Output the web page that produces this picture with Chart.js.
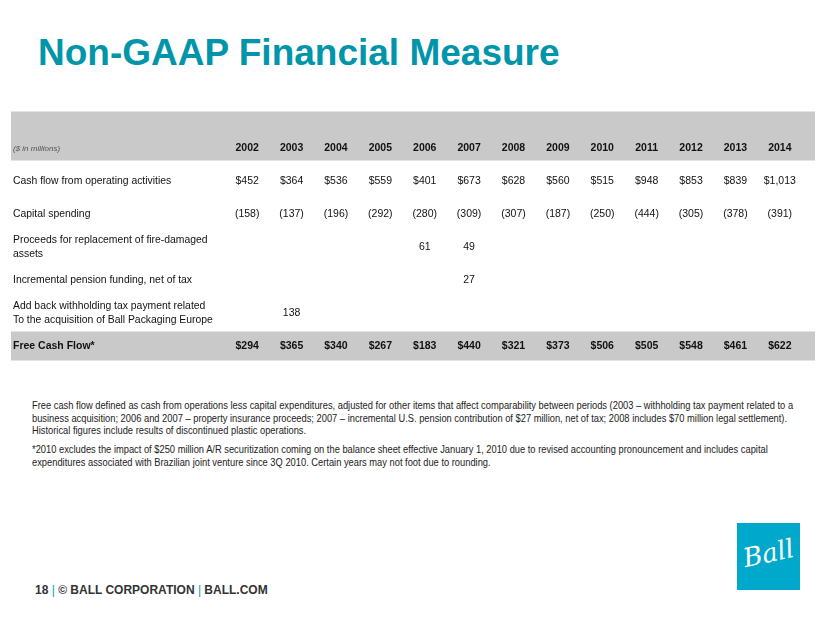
<!DOCTYPE html>
<html>
<head>
<meta charset="utf-8">
<script src="https://cdn.jsdelivr.net/npm/chart.js@4/dist/chart.umd.min.js"></script>
<style>
  body { margin: 0; background: #fff; font-family: "Liberation Sans", Arial, sans-serif; }
  #page { position: relative; width: 830px; height: 623px; overflow: hidden; }
  h1 { position: absolute; left: 38px; top: 32px; margin: 0; font-size: 37px; font-weight: bold; color: #0095a9; }
  #wrap { position: absolute; left: 0; top: 100px; width: 830px; height: 280px; }
  .notes { position: absolute; left: 32px; top: 399px; width: 900px; font-size: 10.6px; line-height: 12.7px; color: #222; transform: scaleX(0.88); transform-origin: left top; }
  .notes p { margin: 0 0 6px 0; }
  #footer { position: absolute; left: 35px; top: 583px; font-size: 12px; font-weight: bold; color: #333; }
  #footer span { color: #00a0c6; font-weight: normal; }
  #logo { position: absolute; left: 737px; top: 523px; width: 63px; height: 67px; background: #00a8cb; overflow: hidden; }
  #logo div { color: #fff; font-family: "DejaVu Serif", serif; font-style: italic; font-size: 26px; line-height: 60px; text-align: center; transform: rotate(-12deg); }
</style>
</head>
<body>
<div id="page">
  <h1>Non-GAAP Financial Measure</h1>
  <div id="wrap"><canvas id="table"></canvas></div>
  <div class="notes">
    <p>Free cash flow defined as cash from operations less capital expenditures, adjusted for other items that affect comparability between periods (2003 – withholding tax payment related to a<br>business acquisition; 2006 and 2007 – property insurance proceeds; 2007 – incremental U.S. pension contribution of $27 million, net of tax; 2008 includes $70 million legal settlement).<br>Historical figures include results of discontinued plastic operations.</p>
    <p>*2010 excludes the impact of $250 million A/R securitization coming on the balance sheet effective January 1, 2010 due to revised accounting pronouncement and includes capital<br>expenditures associated with Brazilian joint venture since 3Q 2010. Certain years may not foot due to rounding.</p>
  </div>
  <div id="footer">18 <span>|</span> © BALL CORPORATION <span>|</span> BALL.COM</div>
  <div id="logo"><div>Ball</div></div>
</div>
<script>
const years = ['2002', '2003', '2004', '2005', '2006', '2007', '2008', '2009', '2010', '2011', '2012', '2013', '2014'];
const rowLabels = [
  '($ in millions)',
  'Cash flow from operating activities',
  'Capital spending',
  'Proceeds for replacement of fire-damaged\nassets',
  'Incremental pension funding, net of tax',
  'Add back withholding tax payment related\nTo the acquisition of Ball Packaging Europe',
  'Free Cash Flow*'
];
const cashFromOps = [452, 364, 536, 559, 401, 673, 628, 560, 515, 948, 853, 839, 1013];
const capitalSpending = [-158, -137, -196, -292, -280, -309, -307, -187, -250, -444, -305, -378, -391];
const fireProceeds = [null, null, null, null, 61, 49, null, null, null, null, null, null, null];
const pensionFunding = [null, null, null, null, null, 27, null, null, null, null, null, null, null];
const withholdingAddBack = [null, 138, null, null, null, null, null, null, null, null, null, null, null];
const freeCashFlow = [294, 365, 340, 267, 183, 440, 321, 373, 506, 505, 548, 461, 622];

const dollars = v => '$' + v.toLocaleString('en-US');
const parens = v => v < 0 ? '(' + Math.abs(v) + ')' : String(v);
const plain = v => String(v);
const FONT = '"Liberation Sans", Arial, sans-serif';

function row(values, rowIndex, fmt, bold) {
  return {
    type: 'line',
    showLine: false,
    pointRadius: 0,
    fmt: fmt,
    bold: bold,
    data: values.map((v, i) => v === null ? null : { x: years[i], y: rowLabels[rowIndex], v: v }).filter(p => p)
  };
}

const tablePlugin = {
  id: 'tablePlugin',
  beforeDraw(chart) {
    const ctx = chart.ctx;
    const y = chart.scales.y;
    const right = chart.chartArea.right + 13;
    ctx.save();
    ctx.fillStyle = '#c9c9c9';
    const h0 = y.getPixelForValue(0);
    ctx.fillRect(11, h0 - 37, right - 11, 49);
    const h6 = y.getPixelForValue(6);
    ctx.fillRect(11, h6 - 15, right - 11, 29);
    ctx.restore();
  },
  afterDatasetsDraw(chart) {
    const ctx = chart.ctx;
    const x = chart.scales.x;
    const y = chart.scales.y;
    ctx.save();
    ctx.textAlign = 'center';
    ctx.textBaseline = 'middle';
    ctx.fillStyle = '#111';
    ctx.font = 'bold 10.5px ' + FONT;
    years.forEach((yr, i) => ctx.fillText(yr, x.getPixelForValue(i), y.getPixelForValue(0)));
    chart.data.datasets.forEach((ds, di) => {
      const meta = chart.getDatasetMeta(di);
      ctx.font = (ds.bold ? 'bold ' : '') + '10.5px ' + FONT;
      meta.data.forEach((pt, i) => {
        ctx.fillText(ds.fmt(ds.data[i].v), pt.x, pt.y);
      });
    });
    ctx.restore();
  }
};

new Chart(document.getElementById('table'), {
  data: {
    labels: years,
    datasets: [
      row(cashFromOps, 1, dollars, false),
      row(capitalSpending, 2, parens, false),
      row(fireProceeds, 3, plain, false),
      row(pensionFunding, 4, plain, false),
      row(withholdingAddBack, 5, plain, false),
      row(freeCashFlow, 6, dollars, true)
    ]
  },
  options: {
    responsive: true,
    maintainAspectRatio: false,
    animation: false,
    layout: { padding: { left: 13, right: 28, top: 32, bottom: 17 } },
    plugins: { legend: { display: false }, tooltip: { enabled: false } },
    scales: {
      x: { type: 'category', labels: years, offset: true, display: false },
      y: {
        type: 'category',
        labels: rowLabels,
        offset: true,
        grid: { display: false },
        border: { display: false },
        afterFit(scale) { scale.width = 212; },
        ticks: {
          autoSkip: false,
          crossAlign: 'far',
          callback(value) {
            const label = this.getLabelForValue(value);
            return label.includes('\n') ? label.split('\n') : label;
          },
          color: ctx => ctx.index === 0 ? '#555' : '#111',
          font: ctx => {
            if (ctx.index === 0) return { family: FONT, size: 8, style: 'italic' };
            if (ctx.index === 6) return { family: FONT, size: 10.5, weight: 'bold' };
            return { family: FONT, size: 10.4, lineHeight: 1.33 };
          }
        }
      }
    }
  },
  plugins: [tablePlugin]
});
</script>
</body>
</html>
